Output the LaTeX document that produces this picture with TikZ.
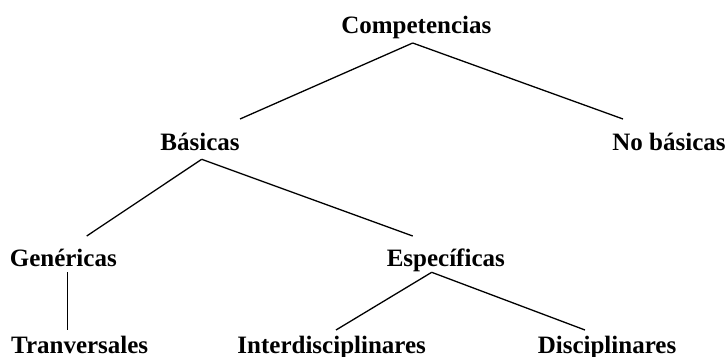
\documentclass[tikz,border=0pt]{standalone}
\usepackage{fontspec}
\setmainfont{Liberation Serif}
\begin{document}
\begin{tikzpicture}[x=1pt,y=-1pt,
  lbl/.style={anchor=base,inner sep=0pt,font=\fontsize{25}{30}\selectfont\bfseries},
  edge/.style={line width=1.3pt}]
\useasboundingbox (0,0) rectangle (728,356);
\node[lbl] (comp) at (416.3,33) {Competencias};
\node[lbl] (bas) at (200,150.7) {Básicas};
\node[lbl] (nob) at (669,150.7) {No básicas};
\node[lbl] (gen) at (63.3,266.7) {Genéricas};
\node[lbl] (esp) at (445.8,266.7) {Específicas};
\node[lbl] (tra) at (79.7,353) {Tranversales};
\node[lbl] (int) at (331.7,353) {Interdisciplinares};
\node[lbl] (dis) at (607,353) {Disciplinares};
\draw[edge] ([shift={(-3.6,10)}]comp.base) -- ([shift={(40,-31.7)}]bas.base);
\draw[edge] ([shift={(-3.6,10)}]comp.base) -- ([shift={(-46,-31.7)}]nob.base);
\draw[edge] ([shift={(1.7,8.6)}]bas.base) -- ([shift={(23.4,-30.7)}]gen.base);
\draw[edge] ([shift={(1.7,8.6)}]bas.base) -- ([shift={(-33.1,-30.7)}]esp.base);
\draw[edge] ([shift={(4.4,5.6)}]gen.base) -- ([shift={(-12,-23)}]tra.base);
\draw[edge] ([shift={(-14.1,5.6)}]esp.base) -- ([shift={(4.3,-23)}]int.base);
\draw[edge] ([shift={(-14.1,5.6)}]esp.base) -- ([shift={(-22,-23)}]dis.base);
\end{tikzpicture}
\end{document}
